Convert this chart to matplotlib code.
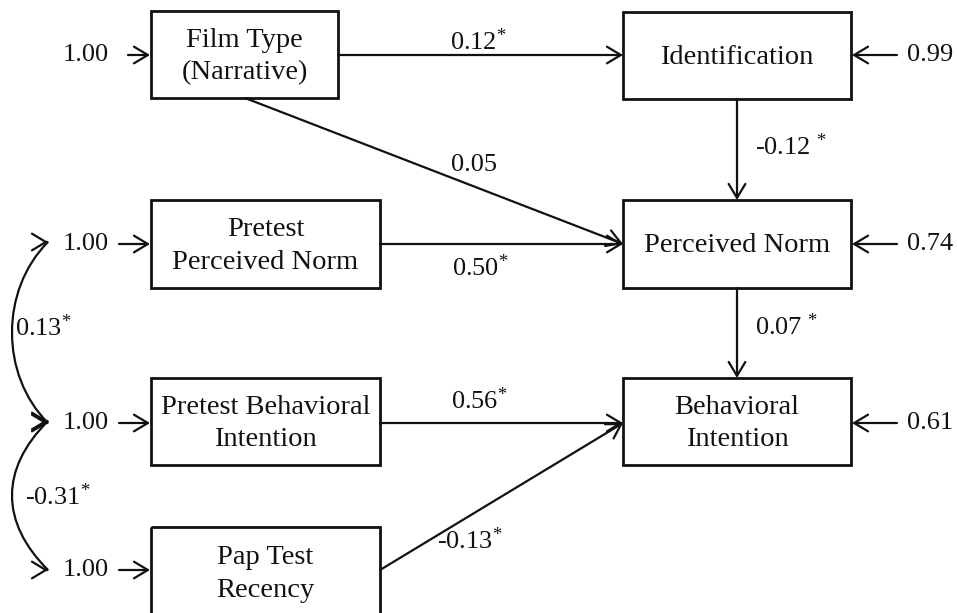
import matplotlib
matplotlib.use('Agg')
from matplotlib import pyplot as plt
from matplotlib.patches import FancyArrowPatch, Rectangle, PathPatch
from matplotlib.path import Path

plt.rcParams['font.family'] = ['Liberation Serif', 'DejaVu Serif']
plt.rcParams['mathtext.fontset'] = 'custom'
plt.rcParams['mathtext.rm'] = 'Liberation Serif'
plt.rcParams['mathtext.it'] = 'Liberation Serif'
plt.rcParams['mathtext.default'] = 'regular'

# variables in the path model
variables = ['Film Type\n(Narrative)', 'Identification', 'Pretest\nPerceived Norm',
             'Perceived Norm', 'Pretest Behavioral\nIntention', 'Behavioral\nIntention',
             'Pap Test\nRecency']

# path coefficients (from, to, coefficient, significant)
paths = [
    (0, 1, '0.12', True),
    (0, 3, '0.05', False),
    (2, 3, '0.50', True),
    (1, 3, '-0.12 ', True),
    (3, 5, '0.07 ', True),
    (4, 5, '0.56', True),
    (6, 5, '-0.13', True),
]

# exogenous variances and residuals
exo_vars = [0, 2, 4, 6]
exo_values = ['1.00', '1.00', '1.00', '1.00']
resid_vars = [1, 3, 5]
resid_values = ['0.99', '0.74', '0.61']

# correlations between exogenous variables
correlations = [(2, 4, '0.13', True), (4, 6, '-0.31', True)]

# layout (pixels): box x0, y0, x1, y1
boxes = {
    0: (151, 11, 338, 98),
    1: (623, 12, 851, 99),
    2: (151, 200, 380, 288),
    3: (623, 200, 851, 288),
    4: (151, 378, 380, 465),
    5: (623, 378, 851, 465),
    6: (151, 527, 380, 640),
}
row_y = {0: 55, 1: 55, 2: 244, 3: 244, 4: 423, 5: 423, 6: 570}

# where each path arrow starts/ends and where its label sits
path_geom = {
    (0, 1): ((338, 55), (623, 55), (478, 42)),
    (0, 3): ((245, 98), (623, 244), (474, 165)),
    (2, 3): ((380, 244), (623, 244), (480, 268)),
    (1, 3): ((737, 99), (737, 200), (755, 147)),
    (3, 5): ((737, 288), (737, 378), (755, 327)),
    (4, 5): ((380, 423), (623, 423), (479, 401)),
    (6, 5): ((380, 570), (623, 423), (470, 541)),
}
corr_label_pos = {(2, 4): (15, 328), (4, 6): (25, 497)}

FS = 20.5
FS_NUM = 19
LW = 1.6
INK = '#111111'
arrow_kw = dict(arrowstyle='->,head_length=1.0,head_width=0.6', mutation_scale=10,
                lw=LW, color=INK, shrinkA=0, shrinkB=0)


def star(txt, sig):
    return txt + r'$^{*}$' if sig else txt


fig = plt.figure(figsize=(9.57, 6.13), dpi=100)
ax = fig.add_axes([0, 0, 1, 1])
ax.set_xlim(0, 957)
ax.set_ylim(613, 0)
ax.axis('off')

for i, name in enumerate(variables):
    x0, y0, x1, y1 = boxes[i]
    ax.add_patch(Rectangle((x0, y0), x1 - x0, y1 - y0, fill=False, lw=2.0, ec=INK))
    cy = (y0 + y1) / 2 if i != 6 else 572
    ax.text((x0 + x1) / 2, cy + 2, name, ha='center', va='center', fontsize=FS,
            linespacing=1.38, color=INK)

for src, dst, coef, sig in paths:
    start, end, lab = path_geom[(src, dst)]
    ax.add_patch(FancyArrowPatch(start, end, **arrow_kw))
    ha = 'left' if src in (1, 3) else 'center'
    ax.text(lab[0], lab[1], star(coef, sig), ha=ha, va='center', fontsize=FS_NUM, color=INK)

for v, val in zip(exo_vars, exo_values):
    y = row_y[v]
    ax.text(86, y, val, ha='center', va='center', fontsize=FS_NUM, color=INK)
    x_start = 128 if v == 0 else 119
    ax.add_patch(FancyArrowPatch((x_start, y), (150, y), **arrow_kw))

for v, val in zip(resid_vars, resid_values):
    y = row_y[v]
    ax.add_patch(FancyArrowPatch((897, y), (852, y), **arrow_kw))
    ax.text(907, y, val, ha='left', va='center', fontsize=FS_NUM, color=INK)

# curved two-headed correlation arrows; heads point right toward the "1.00" labels
tip_x = 48
for a, b, coef, sig in correlations:
    ya, yb = row_y[a] - 2, row_y[b]
    verts = [(tip_x, ya), (0, ya + 48), (0, yb - 48), (tip_x, yb)]
    codes = [Path.MOVETO, Path.CURVE4, Path.CURVE4, Path.CURVE4]
    ax.add_patch(PathPatch(Path(verts, codes), fill=False, lw=LW, ec=INK))
    for y in (ya, yb):
        ax.add_patch(FancyArrowPatch((tip_x - 1, y), (tip_x, y), **arrow_kw))
    lx, ly = corr_label_pos[(a, b)]
    ax.text(lx, ly, star(coef, sig), ha='left', va='center', fontsize=FS_NUM, color=INK)

fig.savefig('out.png', dpi=100, facecolor='white')
